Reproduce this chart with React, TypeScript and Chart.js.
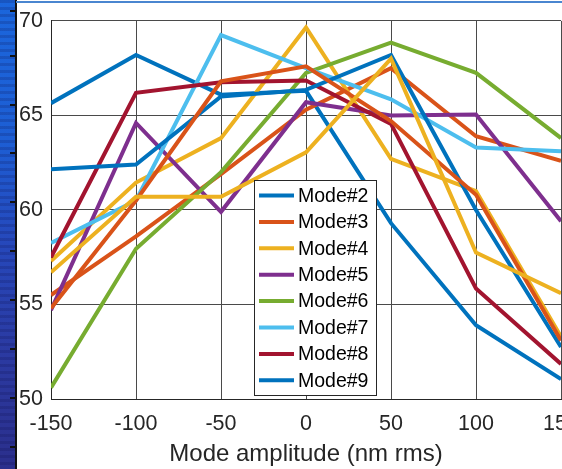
import React, { useEffect, useRef } from "react";
import { Chart, registerables } from "chart.js";

Chart.register(...registerables);

// ---- data ----
const amplitudes = [-150, -100, -50, 0, 50, 100, 150];

const mode2 = [65.65, 68.2, 66.1, 66.3, 59.3, 53.9, 51.05];
const mode3 = [55.5, 58.6, 61.9, 65.3, 67.5, 63.9, 62.6];
const mode4 = [57.3, 61.45, 63.8, 69.65, 62.7, 61.0, 53.3];
const mode5 = [54.7, 64.6, 59.9, 65.7, 65.0, 65.05, 59.4];
const mode6 = [50.6, 57.95, 62.0, 67.25, 68.85, 67.25, 63.8];
const mode7 = [58.25, 60.5, 69.25, 67.5, 65.85, 63.3, 63.1];
const mode8 = [57.5, 66.2, 66.75, 66.85, 64.55, 55.85, 51.85];
const mode9 = [62.15, 62.4, 66.0, 66.35, 68.2, 60.0, 52.75];
const mode10 = [54.8, 60.5, 66.8, 67.6, 64.7, 60.8, 53.1];
const mode11 = [56.7, 60.7, 60.7, 63.05, 68.0, 57.75, 55.6];

const seriesLabels = ["Mode#2", "Mode#3", "Mode#4", "Mode#5", "Mode#6", "Mode#7", "Mode#8", "Mode#9", "Mode#10", "Mode#11"];
const seriesValues = [mode2, mode3, mode4, mode5, mode6, mode7, mode8, mode9, mode10, mode11];
const seriesColors = ["#0072BD", "#D95319", "#EDB120", "#7E2F8E", "#77AC30", "#4DBEEE", "#A2142F", "#0072BD", "#D95319", "#EDB120"];
const legendCount = 8; // only Mode#2..Mode#9 are in the legend

const xTitle = "Mode amplitude (nm rms)";
const yMin = 50, yMax = 70, yStep = 5;
const xMin = -150, xMax = 150, xStep = 50;

// ---- styles ----
const FONT = "'Liberation Sans', Arial, Helvetica, sans-serif";
const TEXT = "#262626";
const GRID = "#4a4a4a";
const CANVAS_W = 620;
const CANVAS_H = 469;

const boxLegend = {
  id: "boxLegend",
  afterDatasetsDraw(chart: any) {
    const ctx = chart.ctx;
    const x0 = 254, y0 = 180, w = 122, h = 215;
    const firstY = 195.5, rowH = 26.4;
    ctx.save();
    ctx.fillStyle = "#ffffff";
    ctx.fillRect(x0, y0, w, h);
    ctx.strokeStyle = "#262626";
    ctx.lineWidth = 1;
    ctx.strokeRect(x0 + 0.5, y0 + 0.5, w, h);
    const items = chart.data.datasets.slice(0, legendCount);
    items.forEach((ds: any, i: number) => {
      const cy = firstY + i * rowH;
      ctx.strokeStyle = ds.borderColor;
      ctx.lineWidth = 4;
      ctx.beginPath();
      ctx.moveTo(259, cy);
      ctx.lineTo(294, cy);
      ctx.stroke();
      ctx.fillStyle = "#000000";
      ctx.font = `19.5px ${FONT}`;
      ctx.textBaseline = "middle";
      ctx.textAlign = "left";
      ctx.fillText(ds.label, 298, cy + 1);
    });
    ctx.restore();
  },
};

const stripTicks = [10, 55, 104, 152, 201, 250, 299, 348, 397, 446];

export default function App() {
  const canvasRef = useRef<HTMLCanvasElement | null>(null);

  useEffect(() => {
    if (!canvasRef.current) return;
    const n = seriesLabels.length;
    const chart = new Chart(canvasRef.current, {
      type: "line",
      data: {
        datasets: seriesLabels.map((label, i) => ({
          label,
          data: amplitudes.map((x, j) => ({ x, y: seriesValues[i][j] })),
          borderColor: seriesColors[i],
          backgroundColor: seriesColors[i],
          borderWidth: 4,
          pointRadius: 0,
          tension: 0,
          fill: false,
          order: n - i,
        })),
      },
      options: {
        animation: false,
        responsive: false,
        devicePixelRatio: 1,
        layout: { padding: { left: 0, right: CANVAS_W - 561, top: 13, bottom: 0 } },
        plugins: {
          legend: { display: false },
          tooltip: { enabled: false },
        },
        scales: {
          x: {
            type: "linear",
            min: xMin,
            max: xMax,
            afterFit: (scale: any) => {
              scale.height = 70;
            },
            ticks: {
              stepSize: xStep,
              autoSkip: false,
              maxRotation: 0,
              padding: 12,
              color: TEXT,
              font: { family: FONT, size: 21.5 },
            },
            grid: { color: GRID, lineWidth: 1, drawTicks: false },
            border: { color: "#262626", width: 1 },
            title: {
              display: true,
              text: xTitle,
              color: TEXT,
              font: { family: FONT, size: 24 },
              padding: { top: 0, bottom: 0 },
            },
          },
          y: {
            type: "linear",
            min: yMin,
            max: yMax,
            afterFit: (scale: any) => {
              scale.width = 51;
            },
            ticks: {
              stepSize: yStep,
              padding: 8,
              color: TEXT,
              font: { family: FONT, size: 21.5 },
            },
            grid: { color: GRID, lineWidth: 1, drawTicks: false },
            border: { color: "#262626", width: 1 },
          },
        },
      },
      plugins: [boxLegend],
    } as any);
    return () => chart.destroy();
  }, []);

  return (
    <div
      style={{
        position: "fixed",
        left: 0,
        top: 0,
        width: 562,
        height: 469,
        overflow: "hidden",
        background: "#ffffff",
      }}
    >
      <canvas
        ref={canvasRef}
        width={CANVAS_W}
        height={CANVAS_H}
        style={{ position: "absolute", left: 0, top: 0, width: CANVAS_W, height: CANVAS_H }}
      />
      {/* neighbouring figure: image strip on the left */}
      <div
        style={{
          position: "absolute",
          left: 0,
          top: 0,
          width: 15,
          height: 469,
          background:
            "repeating-linear-gradient(to bottom, rgba(10,10,70,0.18) 0px, rgba(10,10,70,0.18) 3px, rgba(255,255,255,0) 3px, rgba(255,255,255,0) 7px), linear-gradient(to bottom, #1b66dc 0%, #1d5ed4 30%, #2648bb 52%, #2b3aa2 75%, #2b2f8c 100%)",
        }}
      />
      <div style={{ position: "absolute", left: 15, top: 0, width: 1.5, height: 469, background: "#111" }} />
      {stripTicks.map((t) => (
        <div key={t} style={{ position: "absolute", left: 10, top: t, width: 6, height: 1.5, background: "#111" }} />
      ))}
      {/* top border of the window */}
      <div style={{ position: "absolute", left: 16, top: 1, width: 546, height: 2, background: "#4a86d0" }} />
    </div>
  );
}
